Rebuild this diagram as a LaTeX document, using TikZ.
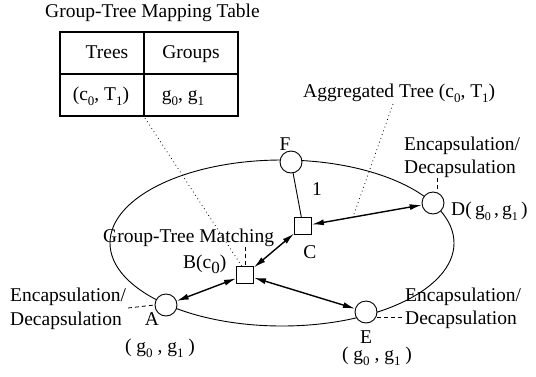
\documentclass[tikz,border=0pt]{standalone}
\usepackage{fontspec}
\setmainfont{Liberation Serif}
\usetikzlibrary{arrows.meta,shapes.geometric}
\newcommand\dn[1]{\raisebox{-0.3em}{\fontsize{13}{13}\selectfont #1}}
\newcommand\dnsm[1]{\raisebox{-0.3em}{\fontsize{12}{12}\selectfont #1}}
\newcommand\dnbig[1]{\raisebox{-0.28em}{\fontsize{17}{17}\selectfont #1}}
\begin{document}
\begin{tikzpicture}[x=1pt,y=-1pt,
  txt/.style={inner sep=0pt,font=\fontsize{19.5}{22}\selectfont},
  station/.style={circle,draw,line width=0.9pt,minimum size=22pt,inner sep=0pt,fill=white},
  router/.style={rectangle,draw,line width=0.9pt,minimum size=17pt,inner sep=0pt,fill=white},
  ring/.style={ellipse,draw,line width=0.9pt,inner sep=0pt},
  arr/.style={{Latex[length=12pt,width=6pt]}-{Latex[length=12pt,width=6pt]},line width=1.4pt},
  dotline/.style={line width=0.8pt,dash pattern=on 0.8pt off 3.2pt},
  dashline/.style={line width=0.8pt,dash pattern=on 4pt off 3pt},
  tabline/.style={line width=1.1pt}]
\useasboundingbox (0,0) rectangle (536,376);

% table
\node[txt,anchor=base west] (title) at (45,17) {Group-Tree Mapping Table};
\draw[tabline] (60,32) rectangle (238,116);
\draw[tabline] (60,74) -- (238,74);
\draw[tabline] (144,32) -- (144,116);
\node[txt,anchor=base] (trees) at (107,58) {Trees};
\node[txt,anchor=base] (groups) at (191,58) {Groups};
\node[txt,anchor=base] (tc) at (101,100) {(c\dn{0}, T\dn{1})};
\node[txt,anchor=base] (gg) at (183,100) {g\dn{0}, g\dn{1}};
\coordinate (tb) at (145,118);

% ellipse
\node[ring,minimum width=344pt,minimum height=166pt] (net) at (282,243) {};

% routers and stations
\node[router] (C) at (303,226) {};
\node[router] (B) at (245,275) {};
\node[station] (F) at (291,162) {};
\node[station] (D) at (433,203) {};
\node[station] (A) at (166,305) {};
\node[station] (E) at (366,312) {};

% connectors
\draw[line width=0.9pt] (F) -- (C);
\draw[arr] (C) -- (D);
\draw[arr] (B) -- (C);
\draw[arr] (B) -- (A);
\draw[arr] (B) -- (E);

% labels
\node[txt,anchor=base] (Flbl) at (285,150) {F};
\node[txt,anchor=base] (one) at (317,195) {1};
\node[txt,anchor=base] (Clbl) at (310,258) {C};
\node[txt,anchor=base west] (agg) at (303,97) {Aggregated Tree (c\dn{0}, T\dn{1})};
\coordinate (aggtop) at (393,104);
\coordinate (aggbot) at (353,217);
\draw[dotline] (aggtop) -- (aggbot);
\coordinate (bend) at (243,268);
\draw[dotline] (tb) -- (bend);

\node[txt,anchor=base west] (gtm) at (103,242) {Group-Tree Matching};
\coordinate (gtmd) at (245,247);
\draw[dashline] (gtmd) -- (B.north);
\node[txt,anchor=base west] (Blbl) at (183,268) {B(c\dnbig{0})};

% D
\node[txt,anchor=base west] (encD) at (404,150) {Encapsulation/};
\node[txt,anchor=base west] (decD) at (404,173) {Decapsulation};
\coordinate (dD) at (437,178);
\coordinate (dD2) at (437,192);
\draw[dashline] (dD) -- (dD2);
\node[txt,anchor=base west] (Dlbl) at (451,215) {D(\,g\dnsm{0}\,,\,g\dnsm{1}\,)};

% A
\node[txt,anchor=base west] (encA) at (10,301) {Encapsulation/};
\node[txt,anchor=base west] (decA) at (10,325) {Decapsulation};
\coordinate (dA) at (128,308);
\draw[dashline] (dA) -- (A.west);
\node[txt,anchor=base] (Albl) at (152,325) {A};
\node[txt,anchor=base] (Ag) at (160,352) {( g\dn{0} , g\dn{1} )};

% E
\node[txt,anchor=base west] (encE) at (405,301) {Encapsulation/};
\node[txt,anchor=base west] (decE) at (405,324) {Decapsulation};
\coordinate (dE) at (403,317);
\coordinate (dE1) at (377,317);
\draw[dashline] (dE1) -- (dE);
\node[txt,anchor=base] (Elbl) at (366,343) {E};
\node[txt,anchor=base] (Eg) at (377,360) {( g\dn{0} , g\dn{1} )};
\end{tikzpicture}
\end{document}
